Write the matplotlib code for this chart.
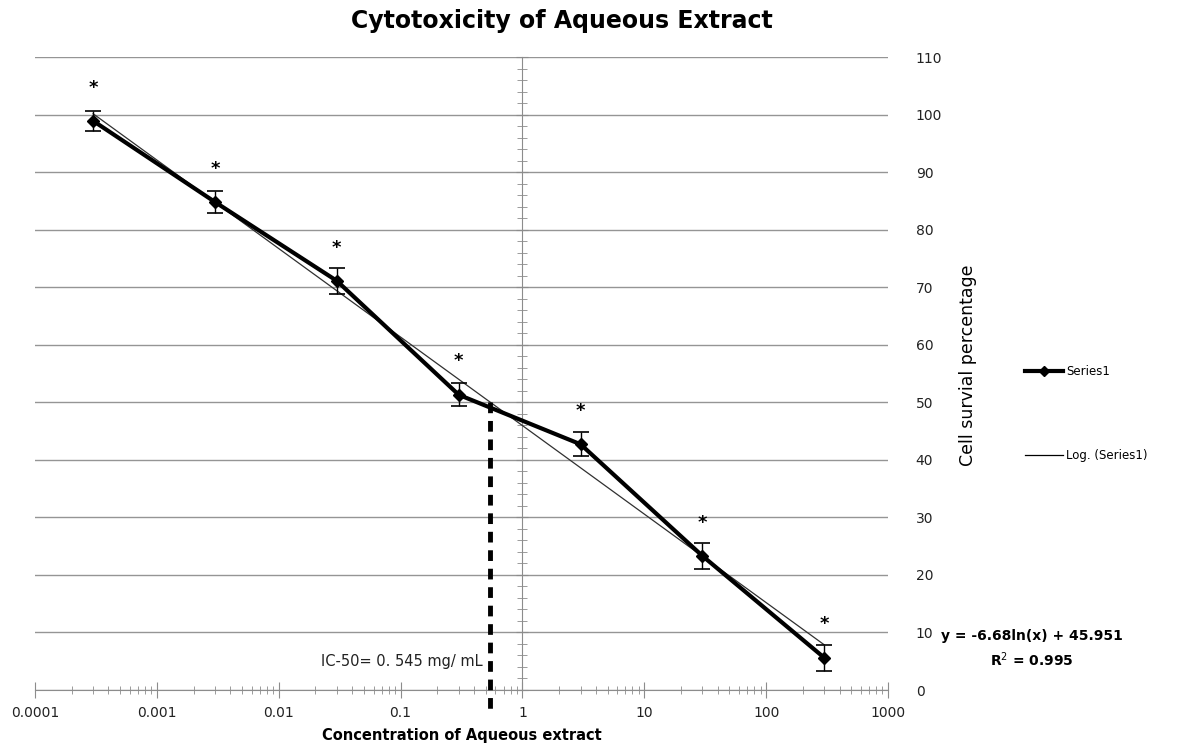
import numpy as np
import matplotlib
matplotlib.use("Agg")
import matplotlib.pyplot as plt
from matplotlib.lines import Line2D
from matplotlib.ticker import LogLocator, MultipleLocator, FixedLocator

# concentrations (mg/mL) and mean cell survival (%) with error
conc = [0.0003, 0.003, 0.03, 0.3, 3, 30, 300]
survival = [98.9, 84.8, 71.1, 51.3, 42.7, 23.3, 5.6]
err = [1.8, 1.9, 2.3, 2.0, 2.1, 2.3, 2.3]

# logarithmic trend line coefficients shown on the chart
slope = -6.68
intercept = 45.951
r2 = 0.995
ic50 = 0.545

y_ticks = list(range(0, 111, 10))
x_ticks = [0.0001, 0.001, 0.01, 0.1, 1, 10, 100, 1000]
x_labels = ["0.0001", "0.001", "0.01", "0.1", "1", "10", "100", "1000"]

fig = plt.figure(figsize=(11.77, 7.46), dpi=100)
ax = fig.add_axes([35 / 1177, 1 - 690 / 746, 853 / 1177, 633 / 746])

ax.set_xscale("log")
ax.set_xlim(0.0001, 1000)
ax.set_ylim(0, 110)

# horizontal gridlines
ax.yaxis.set_major_locator(FixedLocator(y_ticks))
ax.yaxis.set_minor_locator(MultipleLocator(2))
ax.grid(axis="y", which="major", color="#959595", linewidth=1.0)
ax.set_axisbelow(True)

# spines: bottom axis at y=0, vertical axis crossing at x=1
for s in ["top", "right"]:
    ax.spines[s].set_visible(False)
ax.spines["left"].set_position(("data", 1))
ax.spines["left"].set_color("#8c8c8c")
ax.spines["bottom"].set_color("#8c8c8c")

ax.tick_params(axis="y", which="both", direction="inout", colors="#8c8c8c",
               left=True, right=False, labelleft=False, labelright=True,
               labelcolor="#222222", labelsize=10, pad=16)
ax.tick_params(axis="y", which="major", length=8)
ax.tick_params(axis="y", which="minor", length=7)

ax.xaxis.set_major_locator(FixedLocator(x_ticks))
ax.xaxis.set_minor_locator(LogLocator(base=10, subs=np.arange(2, 10)))
ax.set_xticklabels(x_labels)
ax.tick_params(axis="x", which="both", direction="inout", colors="#8c8c8c",
               labelcolor="#222222", labelsize=10, pad=6)
ax.tick_params(axis="x", which="major", length=11)
ax.tick_params(axis="x", which="minor", length=6)

# trend line
xt = np.logspace(np.log10(conc[0]), np.log10(conc[-1]), 200)
ax.plot(xt, slope * np.log(xt) + intercept, color="#303030", linewidth=0.9, zorder=3)

# data series with error bars
ax.errorbar(conc, survival, yerr=err, color="black", linewidth=3.0,
            marker="D", markersize=6.5, elinewidth=1.0, ecolor="black",
            capsize=6, capthick=1.2, zorder=4)

for x, y in zip(conc, survival):
    ax.annotate("*", (x, y), xytext=(0, 24), textcoords="offset points",
                ha="center", va="center", fontsize=13, fontweight="bold")

# IC-50 marker
ax.plot([ic50, ic50], [50, -3.5], color="black", linewidth=3.5,
        linestyle=(0, (2.2, 1.6)), clip_on=False, zorder=5)
ax.text(ic50 * 0.86, 4.9, "IC-50= 0. 545 mg/ mL", ha="right", va="center",
        fontsize=10.5, color="#222222")

fig.text(562 / 1177, 1 - 21 / 746, "Cytotoxicity of Aqueous Extract",
         ha="center", va="center", fontsize=17, fontweight="bold")
ax.set_xlabel("Concentration of Aqueous extract", fontsize=10.5, fontweight="bold", labelpad=6)
fig.text(968 / 1177, 1 - 365 / 746, "Cell survial percentage", rotation=90,
         ha="center", va="center", fontsize=12.5)

fig.text(1032 / 1177, 1 - 636 / 746, "y = %.2fln(x) + %.3f" % (slope, intercept),
         ha="center", va="center", fontsize=10, fontweight="bold")
fig.text(1032 / 1177, 1 - 660 / 746, "R$^2$ = %.3f" % r2,
         ha="center", va="center", fontsize=10, fontweight="bold")

handles = [Line2D([], [], color="black", linewidth=3.0, marker="D", markersize=5),
           Line2D([], [], color="black", linewidth=0.9)]
fig.legend(handles, ["Series1", "Log. (Series1)"], loc="center left",
           bbox_to_anchor=(1025 / 1177, 1 - 413.5 / 746), frameon=False,
           fontsize=8.5, handlelength=3.2, handletextpad=0.3, labelspacing=6.0,
           borderpad=0, borderaxespad=0)

fig.savefig("out.png", dpi=100)
